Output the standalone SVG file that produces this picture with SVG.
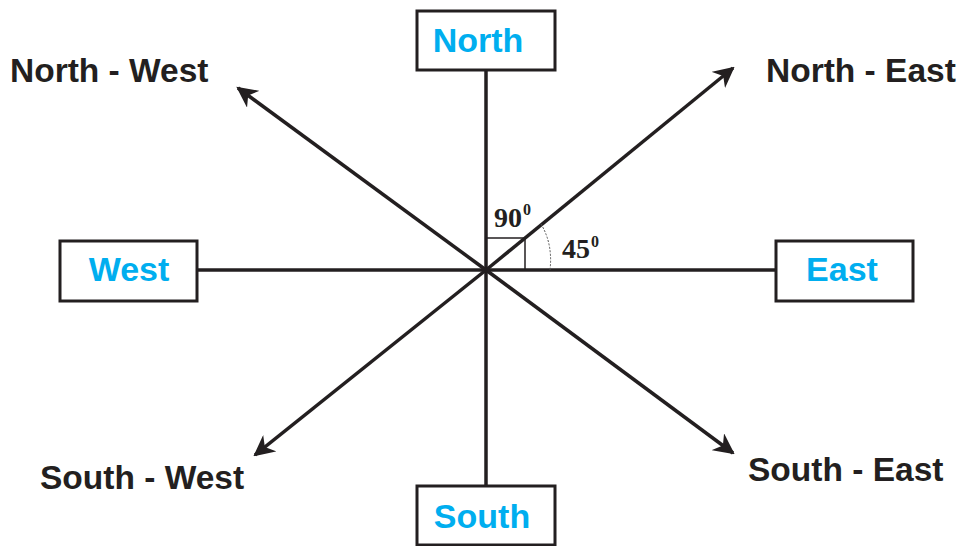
<svg xmlns="http://www.w3.org/2000/svg" width="966" height="546" viewBox="0 0 966 546">
<defs>
<style>
.box{fill:#fff;stroke:#231f20;stroke-width:3}
.ln{stroke:#231f20;stroke-width:3.5;fill:none}
.thin{stroke:#231f20;stroke-width:1.5;fill:none}
.blue{font-family:"Liberation Sans",Arial,sans-serif;font-weight:bold;font-size:34px;fill:#00aeef;text-anchor:middle}
.lbl{font-family:"Liberation Sans",Arial,sans-serif;font-weight:bold;font-size:33.5px;fill:#231f20}
.ang{font-family:"Liberation Serif","Times New Roman",serif;font-weight:bold;font-size:28px;fill:#231f20}
.sup{font-family:"Liberation Serif","Times New Roman",serif;font-weight:bold;font-size:16px;fill:#231f20}
</style>
<marker id="ah" viewBox="0 0 10 10" refX="9" refY="5" markerWidth="6" markerHeight="6" markerUnits="strokeWidth" orient="auto">
<path d="M0,0 L10,5 L0,10 L3,5 Z" fill="#231f20"/>
</marker>
</defs>
<g id="connectors">
<line class="ln" x1="486" y1="70" x2="486" y2="485"/>
<line class="ln" x1="197" y1="270" x2="775" y2="270"/>
<line class="ln" x1="486" y1="270" x2="733" y2="68" marker-end="url(#ah)"/>
<line class="ln" x1="486" y1="270" x2="238" y2="88" marker-end="url(#ah)"/>
<line class="ln" x1="486" y1="270" x2="255" y2="455" marker-end="url(#ah)"/>
<line class="ln" x1="486" y1="270" x2="733" y2="453" marker-end="url(#ah)"/>
<path class="thin" d="M486,238 H525 V270"/>
<path d="M541,224 Q553,244 550,270" fill="none" stroke="#555" stroke-width="1" stroke-dasharray="2,1.5"/>
</g>
<g id="angles">
<text class="ang" x="494" y="227">90</text><text class="sup" x="523" y="215">0</text>
<text class="ang" x="562" y="258">45</text><text class="sup" x="591" y="247">0</text>
</g>
<g id="north"><rect class="box" x="417" y="11" width="138" height="59"/><text class="blue" x="478" y="52">North</text></g>
<g id="south"><rect class="box" x="417" y="486" width="138" height="59"/><text class="blue" x="482" y="528">South</text></g>
<g id="west"><rect class="box" x="60" y="241" width="137" height="60"/><text class="blue" x="129" y="281">West</text></g>
<g id="east"><rect class="box" x="776" y="241" width="137" height="60"/><text class="blue" x="842" y="281">East</text></g>
<g id="north-west"><text class="lbl" x="10" y="82">North - West</text></g>
<g id="north-east"><text class="lbl" x="766" y="82">North - East</text></g>
<g id="south-west"><text class="lbl" x="40" y="489">South - West</text></g>
<g id="south-east"><text class="lbl" x="748" y="481">South - East</text></g>
</svg>
